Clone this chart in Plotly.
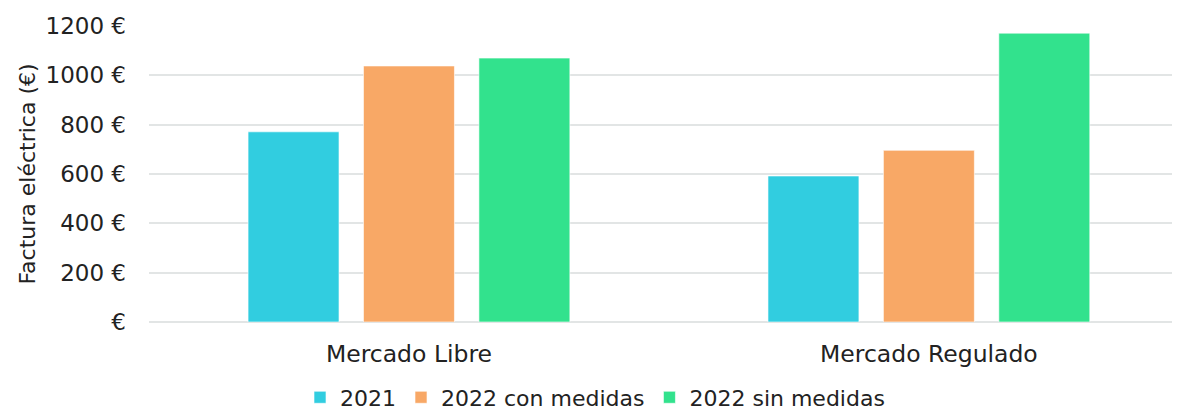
import plotly.graph_objects as go

categories = ["Mercado Libre", "Mercado Regulado"]
series_names = ["2021", "2022 con medidas", "2022 sin medidas"]
values_2021 = [771, 592]
values_con = [1038, 696]
values_sin = [1070, 1171]
colors = ["#31CDE0", "#F8A866", "#32E28D"]
tick_vals = [0, 200, 400, 600, 800, 1000, 1200]
tick_text = ["€", "200 €", "400 €", "600 €", "800 €", "1000 €", "1200 €"]

fig = go.Figure()
for name, vals, col in zip(series_names, [values_2021, values_con, values_sin], colors):
    fig.add_trace(go.Bar(
        x=categories, y=vals, name=name,
        marker=dict(color=col, line=dict(color="rgba(255,255,255,0.6)", width=1)),
    ))

font_family = "'DejaVu Sans', sans-serif"
txt = "#222222"
fs = 22
fig.update_layout(
    width=1172, height=402,
    margin=dict(l=141, r=0, t=18, b=88, autoexpand=False),
    paper_bgcolor="white", plot_bgcolor="white",
    barmode="group", bargap=0.334, bargroupgap=0.212,
    font=dict(family=font_family, size=fs, color=txt),
    xaxis=dict(
        range=[-0.5, 1.483], showgrid=False, showline=False, zeroline=False,
        automargin=False, ticks="", ticklabelstandoff=15,
        tickfont=dict(size=23.5, color=txt),
    ),
    yaxis=dict(
        range=[0, 1200], tickvals=tick_vals, ticktext=tick_text,
        showgrid=True, gridcolor="#E2E5E5", gridwidth=2,
        zeroline=True, zerolinecolor="#E2E5E5", zerolinewidth=2,
        showline=False, ticks="", ticklabelstandoff=22, automargin=False,
        tickfont=dict(size=23, color=txt),
        title=dict(text="Factura eléctrica (€)", font=dict(size=fs, color=txt), standoff=3),
    ),
    legend=dict(
        orientation="h",
        x=0.4326, xanchor="center", y=-0.255, yanchor="middle",
        font=dict(size=fs, color=txt), itemwidth=30, tracegroupgap=0,
    ),
)
fig.write_html("out.html")
